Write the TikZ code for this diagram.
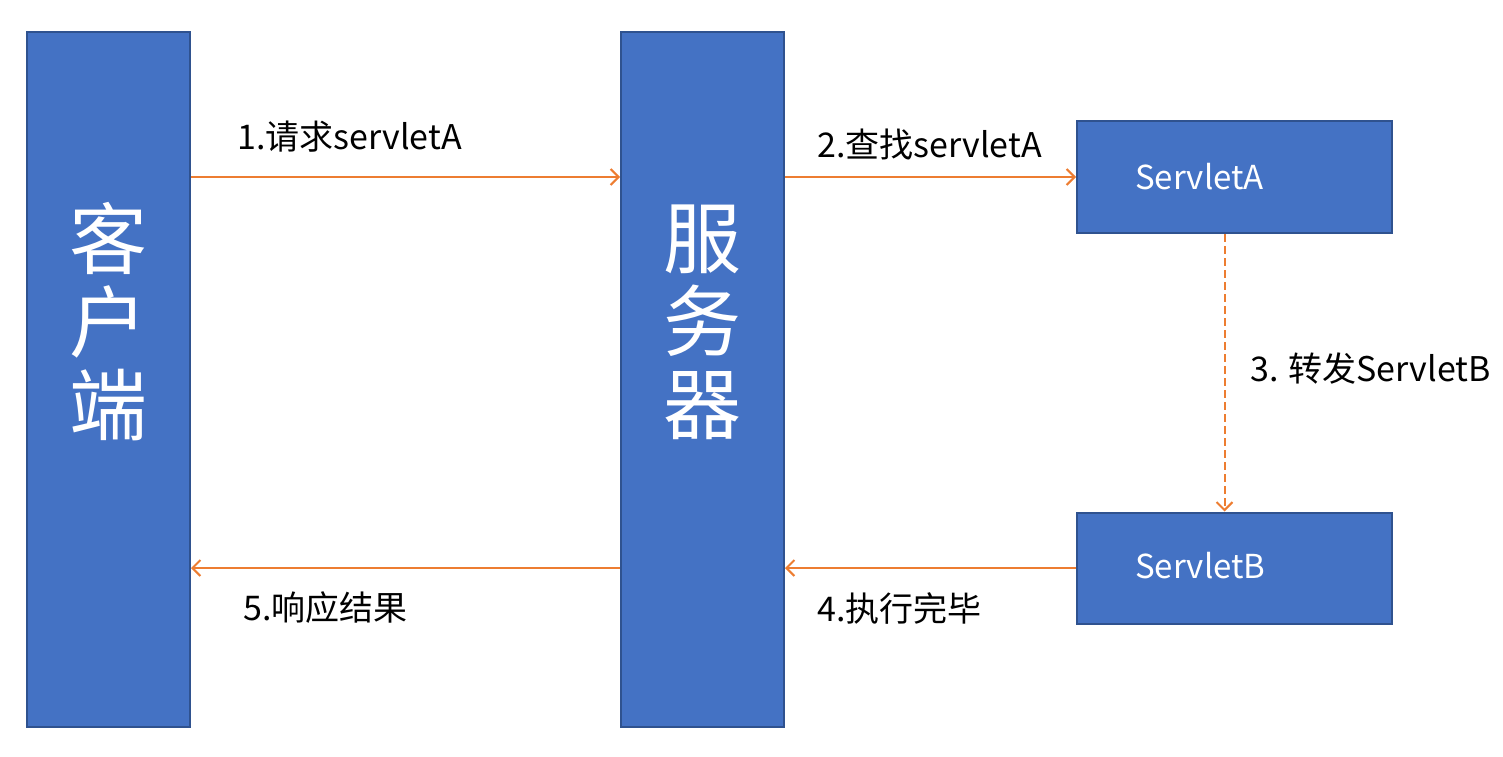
\documentclass[tikz,border=0pt]{standalone}
\usepackage{fontspec}
\setmainfont{Noto Sans CJK SC}
\usetikzlibrary{arrows.meta}

\definecolor{boxfill}{HTML}{4472C4}
\definecolor{boxline}{HTML}{2F528F}
\definecolor{flow}{HTML}{ED7D31}

\tikzset{
	block/.style={draw=boxline, fill=boxfill, line width=2pt, inner sep=0pt},
	bigtext/.style={text=white, font=\fontsize{78}{83}\selectfont, align=center},
	boxtext/.style={text=white, font=\fontsize{33}{38}\selectfont, anchor=west, inner sep=0pt},
	steptext/.style={font=\fontsize{34}{39}\selectfont, anchor=west, inner sep=0pt},
	flowline/.style={draw=flow, line width=2pt, -{Straight Barb[length=8pt,width=16pt,line width=2pt]}}
}

\begin{document}
\begin{tikzpicture}[x=1pt, y=-1pt]
		\useasboundingbox (0,0) rectangle (1503,756);

		\node[block, minimum width=163pt, minimum height=695pt] (client) at (108.5,379.5) {};
		\node[bigtext] (clienttext) at (108.5,322) {客\\户\\端};

		\node[block, minimum width=163pt, minimum height=695pt] (server) at (702.5,379.5) {};
		\node[bigtext] (servertext) at (702.5,322) {服\\务\\器};

		\node[block, minimum width=315pt, minimum height=112pt] (sA) at (1234.5,177) {};
		\node[boxtext] (sAtext) at (1135,177) {ServletA};

		\node[block, minimum width=315pt, minimum height=111pt] (sB) at (1234.5,568) {};
		\node[boxtext] (sBtext) at (1135,566) {ServletB};

		\draw[flowline] (client.east |- sA.west) -- (server.west |- sA.west);
		\node[steptext] (l1) at (237,137) {1.请求servletA};

		\draw[flowline] (server.east |- sA.west) -- (sA.west);
		\node[steptext] (l2) at (817,145) {2.查找servletA};

		\draw[flowline, dash pattern=on 8pt off 4pt] ([xshift=-10pt]sA.south) -- ([xshift=-10pt]sB.north);
		\node[steptext] (l3) at (1250,369) {3. 转发ServletB};

		\draw[flowline] (sB.west) -- (server.east |- sB.west);
		\node[steptext] (l4) at (817,608) {4.执行完毕};

		\draw[flowline] (server.west |- sB.west) -- (client.east |- sB.west);
		\node[steptext] (l5) at (243,608) {5.响应结果};
	\end{tikzpicture}
\end{document}
